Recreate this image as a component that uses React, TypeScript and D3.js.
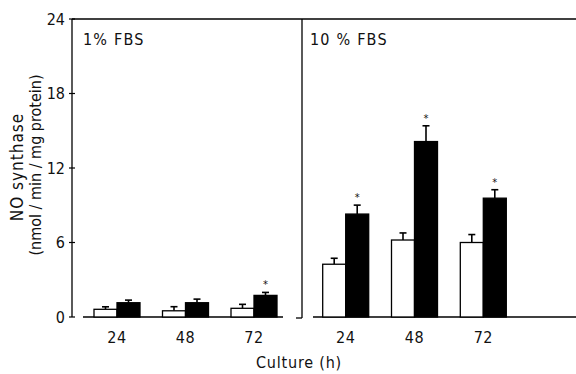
import * as d3 from "d3";

// Culture times (h)
const hours = ["24", "48", "72"];
const series = ["control", "treated"];

// 1% FBS panel
const lowControl = [0.62, 0.5, 0.7];
const lowControlErr = [0.2, 0.33, 0.32];
const lowTreated = [1.15, 1.15, 1.74];
const lowTreatedErr = [0.21, 0.29, 0.24];
const lowSig = [false, false, true];

// 10% FBS panel
const highControl = [4.25, 6.2, 6.0];
const highControlErr = [0.48, 0.57, 0.64];
const highTreated = [8.29, 14.13, 9.57];
const highTreatedErr = [0.72, 1.27, 0.68];
const highSig = [true, true, true];

const yTicks = [0, 6, 12, 18, 24];

const W = 576;
const H = 374;
const font = "'DejaVu Sans Condensed', 'DejaVu Sans', sans-serif";

const y = d3.scaleLinear().domain([0, 24]).range([317, 19]);

interface PanelProps {
  label: string;
  range: [number, number];
  control: number[];
  controlErr: number[];
  treated: number[];
  treatedErr: number[];
  sig: boolean[];
  labelX: number;
}

function Panel(p: PanelProps) {
  const x0 = d3.scaleBand<string>().domain(hours).range(p.range);
  const pairWidth = 46;
  const x1 = d3.scaleBand<string>().domain(series).range([0, pairWidth]);
  const bw = x1.bandwidth();
  return (
    <g>
      <text x={p.labelX} y={45} fontSize={16} fontFamily={font} letterSpacing={1.2} fill="#111">
        {p.label}
      </text>
      {hours.map((h, i) => {
        const gx = (x0(h) as number) + (x0.bandwidth() - pairWidth) / 2;
        const bars = [
          { s: "control", v: p.control[i], e: p.controlErr[i], fill: "#fff" },
          { s: "treated", v: p.treated[i], e: p.treatedErr[i], fill: "#000" },
        ];
        return (
          <g key={h}>
            {bars.map((b) => {
              const bx = gx + (x1(b.s) as number);
              const cx = bx + bw / 2;
              return (
                <g key={b.s}>
                  <line x1={cx} x2={cx} y1={y(b.v)} y2={y(b.v + b.e)} stroke="#000" strokeWidth={1.6} />
                  <line x1={cx - 3.5} x2={cx + 3.5} y1={y(b.v + b.e)} y2={y(b.v + b.e)} stroke="#000" strokeWidth={1.6} />
                  <rect
                    x={bx}
                    y={y(b.v)}
                    width={bw}
                    height={y(0) - y(b.v)}
                    fill={b.fill}
                    stroke="#000"
                    strokeWidth={1.3}
                  />
                  {b.s === "treated" && p.sig[i] && (
                    <text
                      x={cx}
                      y={y(b.v + b.e) - 4}
                      fontSize={11}
                      fontFamily={font}
                      textAnchor="middle"
                      fill="#111"
                    >
                      *
                    </text>
                  )}
                </g>
              );
            })}
            <text
              x={gx + pairWidth / 2}
              y={343}
              fontSize={16}
              fontFamily={font}
              textAnchor="middle"
              letterSpacing={0.5}
              fill="#111"
            >
              {h}
            </text>
          </g>
        );
      })}
    </g>
  );
}

export default function App() {
  return (
    <svg
      width={W}
      height={H}
      viewBox={`0 0 ${W} ${H}`}
      style={{ position: "absolute", left: 0, top: 0, background: "#fff" }}
    >
      {/* frame */}
      <line x1={72} x2={576} y1={y(24)} y2={y(24)} stroke="#000" strokeWidth={1.3} />
      <line x1={72} x2={72} y1={y(24)} y2={y(0)} stroke="#000" strokeWidth={1.3} />
      <line x1={302} x2={302} y1={y(24)} y2={y(0) + 1} stroke="#000" strokeWidth={1.3} />
      <line x1={296} x2={302} y1={y(0) + 1} y2={y(0) + 1} stroke="#000" strokeWidth={1.3} />
      {/* baselines */}
      <line x1={83} x2={283} y1={y(0)} y2={y(0)} stroke="#000" strokeWidth={1.3} />
      <line x1={313} x2={576} y1={y(0)} y2={y(0)} stroke="#000" strokeWidth={1.3} />
      {/* y ticks */}
      {yTicks.map((t) => (
        <g key={t}>
          <line x1={69} x2={75} y1={y(t)} y2={y(t)} stroke="#000" strokeWidth={1.2} />
          <text
            x={65}
            y={y(t)}
            dy="0.36em"
            fontSize={16}
            fontFamily={font}
            textAnchor="end"
            fill="#111"
          >
            {t}
          </text>
        </g>
      ))}
      <Panel
        label="1% FBS"
        range={[82.75, 288.25]}
        control={lowControl}
        controlErr={lowControlErr}
        treated={lowTreated}
        treatedErr={lowTreatedErr}
        sig={lowSig}
        labelX={83}
      />
      <Panel
        label="10 % FBS"
        range={[311.3, 517.7]}
        control={highControl}
        controlErr={highControlErr}
        treated={highTreated}
        treatedErr={highTreatedErr}
        sig={highSig}
        labelX={310}
      />
      {/* axis titles */}
      <text
        transform="translate(23,167) rotate(-90)"
        fontSize={17}
        fontFamily={font}
        textAnchor="middle"
        letterSpacing={1}
        fill="#111"
      >
        NO synthase
      </text>
      <text
        transform="translate(41,165) rotate(-90)"
        fontSize={16}
        fontFamily={font}
        textAnchor="middle"
        fill="#111"
      >
        (nmol / min / mg protein)
      </text>
      <text
        x={299}
        y={368}
        fontSize={16}
        fontFamily={font}
        textAnchor="middle"
        letterSpacing={0.8}
        fill="#111"
      >
        Culture (h)
      </text>
    </svg>
  );
}
